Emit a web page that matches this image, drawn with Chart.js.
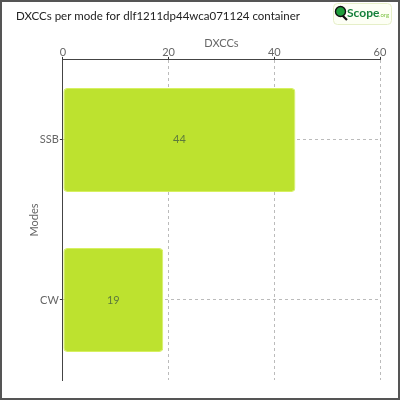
<!DOCTYPE html>
<html>
<head>
<meta charset="utf-8">
<script src="https://cdn.jsdelivr.net/npm/chart.js@4/dist/chart.umd.min.js"></script>
<style>
  html, body { margin: 0; padding: 0; background: #fff; }
  #wrap { width: 400px; height: 400px; }
</style>
</head>
<body>
<div id="wrap"><canvas id="c" width="400" height="400"></canvas></div>
<script>
const modes = ["SSB", "CW"];
const dxccCounts = [44, 19];
const xTicks = [0, 20, 40, 60];

const barColor = "#bde22f";
const barBorder = "#d6f060";
const textGrey = "#666";
const fontFamily = "Lato, sans-serif";

// frame round the whole canvas
const framePlugin = {
  id: "frame",
  afterDraw(chart) {
    const ctx = chart.ctx;
    ctx.save();
    ctx.strokeStyle = "#555";
    ctx.lineWidth = 2;
    ctx.strokeRect(1, 1, chart.width - 2, chart.height - 2);
    ctx.restore();
  },
};

// value drawn in the middle of each bar
const valueLabels = {
  id: "valueLabels",
  afterDatasetsDraw(chart) {
    const ctx = chart.ctx;
    const meta = chart.getDatasetMeta(0);
    ctx.save();
    ctx.fillStyle = "#5d7a3c";
    ctx.font = "11px " + fontFamily;
    ctx.textAlign = "center";
    ctx.textBaseline = "middle";
    meta.data.forEach((bar, i) => {
      const x = (bar.x + bar.base) / 2;
      ctx.fillText(String(dxccCounts[i]), x, bar.y);
    });
    ctx.restore();
  },
};

// small QScope badge, top right
const logoPlugin = {
  id: "logo",
  afterDraw(chart) {
    const ctx = chart.ctx;
    const x = 333, y = 3, w = 58, h = 21;
    ctx.save();
    ctx.fillStyle = "#fdfff5";
    ctx.strokeStyle = "#e6efc8";
    ctx.lineWidth = 1;
    ctx.beginPath();
    ctx.roundRect(x + 0.5, y + 0.5, w, h, 4);
    ctx.fill();
    ctx.stroke();
    // magnifier
    ctx.strokeStyle = "#111";
    ctx.lineWidth = 2.2;
    ctx.beginPath();
    ctx.moveTo(342, 15);
    ctx.lineTo(347, 20);
    ctx.stroke();
    ctx.fillStyle = "#1e9e3a";
    ctx.beginPath();
    ctx.arc(340.5, 11.5, 5, 0, Math.PI * 2);
    ctx.fill();
    ctx.lineWidth = 1.4;
    ctx.stroke();
    ctx.fillStyle = "#15803a";
    ctx.font = "bold 12px " + fontFamily;
    ctx.textBaseline = "alphabetic";
    ctx.fillText("Scope", 347, 17);
    ctx.font = "6px " + fontFamily;
    ctx.fillStyle = "#7cc242";
    ctx.fillText(".org", 379, 17);
    ctx.restore();
  },
};

new Chart(document.getElementById("c"), {
  type: "bar",
  data: {
    labels: modes,
    datasets: [
      {
        data: dxccCounts,
        backgroundColor: barColor,
        borderColor: barBorder,
        borderWidth: 1,
        borderRadius: 4,
        borderSkipped: false,
        barPercentage: 0.65,
        categoryPercentage: 1,
      },
    ],
  },
  options: {
    indexAxis: "y",
    responsive: false,
    animation: false,
    layout: { padding: { left: 16, right: 20, bottom: 20, top: 4 } },
    plugins: {
      legend: { display: false },
      tooltip: { enabled: false },
      title: {
        display: true,
        text: "DXCCs per mode for dlf1211dp44wca071124 container",
        align: "start",
        color: "#222",
        font: { family: fontFamily, size: 11.5, weight: "normal" },
        padding: { top: 5, bottom: 16.5 },
      },
    },
    scales: {
      x: {
        position: "top",
        min: 0,
        max: 60,
        afterBuildTicks(axis) {
          axis.ticks = xTicks.map((v) => ({ value: v }));
        },
        title: {
          display: true,
          text: "DXCCs",
          color: textGrey,
          font: { family: fontFamily, size: 11, lineHeight: 0.8 },
          padding: { top: 0, bottom: 0 },
        },
        ticks: {
          color: textGrey,
          font: { family: fontFamily, size: 11, lineHeight: 0.8 },
          padding: 0,
        },
        grid: {
          color: "#bbb",
          tickColor: "#333",
          tickLength: 3,
          tickBorderDash: [],
        },
        border: { color: "#444", width: 1, dash: [3, 3] },
      },
      y: {
        title: {
          display: true,
          text: "Modes",
          color: textGrey,
          font: { family: fontFamily, size: 11, lineHeight: 0.8 },
          padding: { top: 14, bottom: 0 },
        },
        ticks: {
          color: textGrey,
          font: { family: fontFamily, size: 11 },
          padding: 1,
        },
        grid: {
          offset: false,
          color: "#bbb",
          tickColor: "#333",
          tickLength: 3,
          tickBorderDash: [],
        },
        border: { color: "#444", width: 1, dash: [3, 3] },
      },
    },
  },
  plugins: [valueLabels, logoPlugin, framePlugin],
});
</script>
</body>
</html>
